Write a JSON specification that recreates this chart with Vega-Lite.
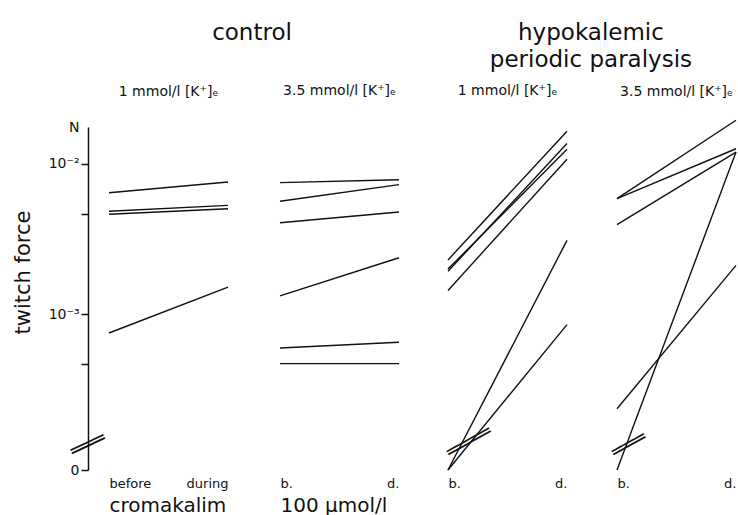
{
  "$schema": "https://vega.github.io/schema/vega-lite/v6.json",
  "padding": {"left": 12, "top": 22, "right": 0, "bottom": 0},
  "background": "white",
  "config": {
    "view": {"stroke": null},
    "font": "DejaVu Sans",
    "axis": {"grid": false, "labelColor": "#111", "domainColor": "#111", "tickColor": "#111", "titleColor": "#111"},
    "axisX": {"domain": false, "ticks": false, "labelFlush": true, "labelAngle": 0, "labelFontSize": 13, "labelPadding": 7, "titleFontSize": 20, "titleFontWeight": "normal", "titleAnchor": "start", "titlePadding": 5},
    "title": {"color": "#111"},
    "line": {"color": "#111", "strokeWidth": 1.4},
    "text": {"color": "#111"}
  },
  "datasets": {
    "d": [
      {"group": "control", "panel": "1 mmol/l", "kind": "line", "id": "c1a", "phase": "before", "force": 0.0065},
      {"group": "control", "panel": "1 mmol/l", "kind": "line", "id": "c1a", "phase": "during", "force": 0.00763},
      {"group": "control", "panel": "1 mmol/l", "kind": "line", "id": "c1b", "phase": "before", "force": 0.00492},
      {"group": "control", "panel": "1 mmol/l", "kind": "line", "id": "c1b", "phase": "during", "force": 0.00538},
      {"group": "control", "panel": "1 mmol/l", "kind": "line", "id": "c1c", "phase": "before", "force": 0.0047},
      {"group": "control", "panel": "1 mmol/l", "kind": "line", "id": "c1c", "phase": "during", "force": 0.00511},
      {"group": "control", "panel": "1 mmol/l", "kind": "line", "id": "c1d", "phase": "before", "force": 0.000729},
      {"group": "control", "panel": "1 mmol/l", "kind": "line", "id": "c1d", "phase": "during", "force": 0.00154},
      {"group": "control", "panel": "1 mmol/l", "kind": "break", "id": "brk0", "phase": "before", "force": 0.00005},

      {"group": "control", "panel": "3.5 mmol/l", "kind": "line", "id": "c3a", "phase": "b.", "force": 0.00755},
      {"group": "control", "panel": "3.5 mmol/l", "kind": "line", "id": "c3a", "phase": "d.", "force": 0.00789},
      {"group": "control", "panel": "3.5 mmol/l", "kind": "line", "id": "c3b", "phase": "b.", "force": 0.00572},
      {"group": "control", "panel": "3.5 mmol/l", "kind": "line", "id": "c3b", "phase": "d.", "force": 0.00733},
      {"group": "control", "panel": "3.5 mmol/l", "kind": "line", "id": "c3c", "phase": "b.", "force": 0.00414},
      {"group": "control", "panel": "3.5 mmol/l", "kind": "line", "id": "c3c", "phase": "d.", "force": 0.00487},
      {"group": "control", "panel": "3.5 mmol/l", "kind": "line", "id": "c3d", "phase": "b.", "force": 0.00134},
      {"group": "control", "panel": "3.5 mmol/l", "kind": "line", "id": "c3d", "phase": "d.", "force": 0.00243},
      {"group": "control", "panel": "3.5 mmol/l", "kind": "line", "id": "c3e", "phase": "b.", "force": 0.000563},
      {"group": "control", "panel": "3.5 mmol/l", "kind": "line", "id": "c3e", "phase": "d.", "force": 0.000622},
      {"group": "control", "panel": "3.5 mmol/l", "kind": "line", "id": "c3f", "phase": "b.", "force": 0.000424},
      {"group": "control", "panel": "3.5 mmol/l", "kind": "line", "id": "c3f", "phase": "d.", "force": 0.000424},

      {"group": "hpp", "panel": "1 mmol/l", "kind": "line", "id": "h1a", "phase": "b.", "force": 0.00235},
      {"group": "hpp", "panel": "1 mmol/l", "kind": "line", "id": "h1a", "phase": "d.", "force": 0.0162},
      {"group": "hpp", "panel": "1 mmol/l", "kind": "line", "id": "h1b", "phase": "b.", "force": 0.00197},
      {"group": "hpp", "panel": "1 mmol/l", "kind": "line", "id": "h1b", "phase": "d.", "force": 0.0135},
      {"group": "hpp", "panel": "1 mmol/l", "kind": "line", "id": "h1c", "phase": "b.", "force": 0.00204},
      {"group": "hpp", "panel": "1 mmol/l", "kind": "line", "id": "h1c", "phase": "d.", "force": 0.0124},
      {"group": "hpp", "panel": "1 mmol/l", "kind": "line", "id": "h1d", "phase": "b.", "force": 0.00146},
      {"group": "hpp", "panel": "1 mmol/l", "kind": "line", "id": "h1d", "phase": "d.", "force": 0.0107},
      {"group": "hpp", "panel": "1 mmol/l", "kind": "line", "id": "h1e", "phase": "b.", "force": 0},
      {"group": "hpp", "panel": "1 mmol/l", "kind": "line", "id": "h1e", "phase": "d.", "force": 0.00317},
      {"group": "hpp", "panel": "1 mmol/l", "kind": "line", "id": "h1f", "phase": "b.", "force": 0},
      {"group": "hpp", "panel": "1 mmol/l", "kind": "line", "id": "h1f", "phase": "d.", "force": 0.00084},
      {"group": "hpp", "panel": "1 mmol/l", "kind": "break", "id": "brk1", "phase": "b.", "force": 0.000057},

      {"group": "hpp", "panel": "3.5 mmol/l", "kind": "line", "id": "h3a", "phase": "b.", "force": 0.00595},
      {"group": "hpp", "panel": "3.5 mmol/l", "kind": "line", "id": "h3a", "phase": "d.", "force": 0.01905},
      {"group": "hpp", "panel": "3.5 mmol/l", "kind": "line", "id": "h3b", "phase": "b.", "force": 0.00595},
      {"group": "hpp", "panel": "3.5 mmol/l", "kind": "line", "id": "h3b", "phase": "d.", "force": 0.0125},
      {"group": "hpp", "panel": "3.5 mmol/l", "kind": "line", "id": "h3c", "phase": "b.", "force": 0.00402},
      {"group": "hpp", "panel": "3.5 mmol/l", "kind": "line", "id": "h3c", "phase": "d.", "force": 0.0119},
      {"group": "hpp", "panel": "3.5 mmol/l", "kind": "line", "id": "h3d", "phase": "b.", "force": 0.000164},
      {"group": "hpp", "panel": "3.5 mmol/l", "kind": "line", "id": "h3d", "phase": "d.", "force": 0.00216},
      {"group": "hpp", "panel": "3.5 mmol/l", "kind": "line", "id": "h3e", "phase": "b.", "force": 0},
      {"group": "hpp", "panel": "3.5 mmol/l", "kind": "line", "id": "h3e", "phase": "d.", "force": 0.0119},
      {"group": "hpp", "panel": "3.5 mmol/l", "kind": "break", "id": "brk2", "phase": "b.", "force": 0.00005}
    ]
  },
  "resolve": {"scale": {"x": "independent", "y": "independent"}},
  "spacing": 41,
  "hconcat": [
    {
      "title": {"text": ["control", " "], "fontSize": 23, "fontWeight": "normal", "anchor": "middle", "dx": 45, "lineHeight": 27, "offset": 12},
      "resolve": {"scale": {"x": "independent", "y": "independent"}},
      "spacing": 46,
      "hconcat": [
        {
          "data": {"name": "d"},
          "transform": [{"filter": "datum.group == 'control' && datum.panel == '1 mmol/l'"}],
          "title": {"text": "1 mmol/l [K⁺]ₑ", "fontSize": 14, "fontWeight": "normal", "frame": "group", "offset": 21, "anchor": "middle"},
          "width": 119,
          "height": 343,
          "encoding": {
            "x": {"field": "phase", "type": "nominal", "sort": "ascending", "scale": {"type": "point", "padding": 0},
                  "axis": {"title": "cromakalim"}},
            "y": {"field": "force", "type": "quantitative",
                  "scale": {"type": "symlog", "constant": 0.0001124, "domain": [0, 0.01725], "nice": false, "zero": false},
                  "axis": {"title": "twitch force", "titleFontSize": 21, "titleFontWeight": "normal", "titlePadding": 15, "titleY": 145, "titleAlign": "center",
                           "offset": 21, "values": [0, 0.00042, 0.001, 0.0047, 0.01, 0.01725],
                           "labelExpr": "datum.value == 0 ? '0' : datum.value == 0.001 ? '10⁻³' : datum.value == 0.01 ? '10⁻²' : datum.value > 0.017 ? 'N' : ''",
                           "labelFontSize": 14, "labelOverlap": false, "labelPadding": 2, "tickSize": 7,
                           "tickOpacity": {"condition": {"test": "datum.value > 0.017", "value": 0}, "value": 1},
                           "domainWidth": 1.5, "tickWidth": 1.5}}
          },
          "layer": [
            {"transform": [{"filter": "datum.kind == 'line'"}],
             "mark": {"type": "line"},
             "encoding": {"detail": {"field": "id"}}},
            {"transform": [{"filter": "datum.kind == 'break'"}],
             "mark": {"type": "text", "text": "═══", "font": "DejaVu Sans Mono", "fontSize": 20, "angle": -25, "align": "center", "baseline": "middle", "dx": -19, "dy": -8.9}}
          ]
        },
        {
          "data": {"name": "d"},
          "transform": [{"filter": "datum.group == 'control' && datum.panel == '3.5 mmol/l'"}],
          "title": {"text": "3.5 mmol/l [K⁺]ₑ", "fontSize": 14, "fontWeight": "normal", "frame": "group", "offset": 29, "anchor": "middle"},
          "width": 119,
          "height": 343,
          "mark": {"type": "line"},
          "encoding": {
            "x": {"field": "phase", "type": "nominal", "sort": "ascending", "scale": {"type": "point", "padding": 0},
                  "axis": {"title": "100 µmol/l"}},
            "y": {"field": "force", "type": "quantitative",
                  "scale": {"type": "symlog", "constant": 0.0001124, "domain": [0, 0.01725], "nice": false, "zero": false},
                  "axis": null},
            "detail": {"field": "id"}
          }
        }
      ]
    },
    {
      "title": {"text": ["hypokalemic", "periodic  paralysis"], "fontSize": 23, "fontWeight": "normal", "anchor": "middle", "lineHeight": 27, "offset": 12},
      "resolve": {"scale": {"x": "independent", "y": "independent"}},
      "spacing": 38,
      "hconcat": [
        {
          "data": {"name": "d"},
          "transform": [{"filter": "datum.group == 'hpp' && datum.panel == '1 mmol/l'"}],
          "title": {"text": "1 mmol/l [K⁺]ₑ", "fontSize": 14, "fontWeight": "normal", "frame": "group", "offset": 29, "anchor": "middle"},
          "width": 119,
          "height": 343,
          "encoding": {
            "x": {"field": "phase", "type": "nominal", "sort": "ascending", "scale": {"type": "point", "padding": 0},
                  "axis": {"title": null}},
            "y": {"field": "force", "type": "quantitative",
                  "scale": {"type": "symlog", "constant": 0.0001124, "domain": [0, 0.01725], "nice": false, "zero": false},
                  "axis": null}
          },
          "layer": [
            {"transform": [{"filter": "datum.kind == 'line'"}],
             "mark": {"type": "line"},
             "encoding": {"detail": {"field": "id"}}},
            {"transform": [{"filter": "datum.kind == 'break'"}],
             "mark": {"type": "text", "text": "════", "font": "DejaVu Sans Mono", "fontSize": 20, "angle": -29, "align": "center", "baseline": "middle", "dx": 18.4, "dy": 10.2}}
          ]
        },
        {
          "data": {"name": "d"},
          "transform": [{"filter": "datum.group == 'hpp' && datum.panel == '3.5 mmol/l'"}],
          "title": {"text": "3.5 mmol/l [K⁺]ₑ", "fontSize": 14, "fontWeight": "normal", "frame": "group", "offset": 18, "anchor": "middle"},
          "width": 119,
          "height": 343,
          "encoding": {
            "x": {"field": "phase", "type": "nominal", "sort": "ascending", "scale": {"type": "point", "padding": 0},
                  "axis": {"title": null}},
            "y": {"field": "force", "type": "quantitative",
                  "scale": {"type": "symlog", "constant": 0.0001124, "domain": [0, 0.01725], "nice": false, "zero": false},
                  "axis": null}
          },
          "layer": [
            {"transform": [{"filter": "datum.kind == 'line'"}],
             "mark": {"type": "line"},
             "encoding": {"detail": {"field": "id"}}},
            {"transform": [{"filter": "datum.kind == 'break'"}],
             "mark": {"type": "text", "text": "═══", "font": "DejaVu Sans Mono", "fontSize": 20, "angle": -29, "align": "center", "baseline": "middle", "dx": 10.5, "dy": 5.8}}
          ]
        }
      ]
    }
  ]
}
